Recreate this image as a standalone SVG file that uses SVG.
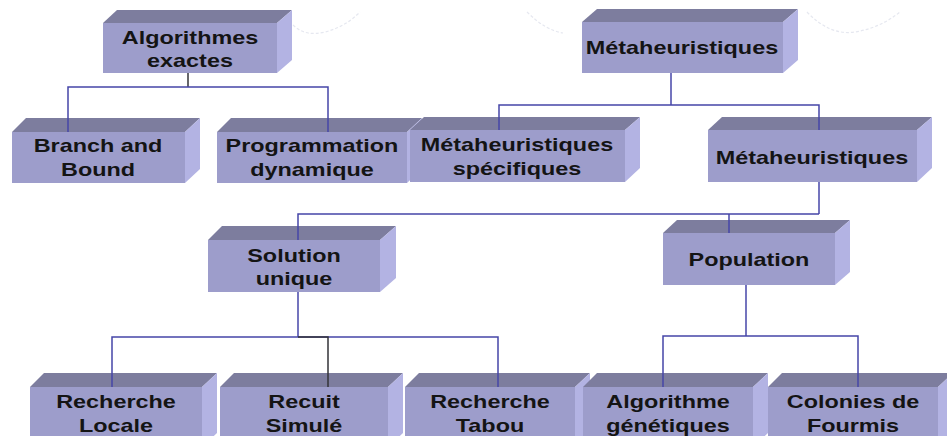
<svg xmlns="http://www.w3.org/2000/svg" width="947" height="436" viewBox="0 0 947 436">
<style>
.top{fill:#7d7d9e}
.front{fill:#9d9dcb}
.side{fill:#b3b3e3}
.lbl{font-family:"Liberation Sans",Arial,sans-serif;font-weight:bold;font-size:18px;fill:#141414;text-anchor:middle}
.c{fill:none;stroke:#4646a8;stroke-width:1.5}
.cd{fill:none;stroke:#333338;stroke-width:1.5}
.arc{fill:none;stroke:#e6e8f0;stroke-width:1.2;stroke-dasharray:3 2}
</style>
<rect width="947" height="436" fill="#ffffff"/>
<g id="decor">
<path class="arc" d="M293,25 Q305,37 325,32 T360,12"/>
<path class="arc" d="M527,12 Q545,30 563,33"/>
<path class="arc" d="M807,12 Q830,36 855,32 T900,12"/>
</g>
<g id="n1"><polygon class="top" points="103,23 277,23 292,10 117,10"/><rect class="front" x="103" y="23" width="174" height="50"/><polygon class="side" points="277,23 292,10 292,60 277,73"/>
<text class="lbl" transform="translate(190,0) scale(1.3,1)"><tspan x="0" y="44">Algorithmes</tspan><tspan x="0" y="67">exactes</tspan></text></g>
<g id="n2"><polygon class="top" points="582,22 783,22 798,9 597,9"/><rect class="front" x="582" y="22" width="201" height="51"/><polygon class="side" points="783,22 798,9 798,60 783,73"/>
<text class="lbl" transform="translate(682,0) scale(1.3,1)"><tspan x="0" y="54">Métaheuristiques</tspan></text></g>
<g id="n3"><polygon class="top" points="12,132 185,132 200,118 26,118"/><rect class="front" x="12" y="132" width="173" height="51"/><polygon class="side" points="185,132 200,118 200,169 185,183"/>
<text class="lbl" transform="translate(98,0) scale(1.3,1)"><tspan x="0" y="152">Branch and</tspan><tspan x="0" y="176">Bound</tspan></text></g>
<g id="n4"><polygon class="top" points="217,132 407,132 422,118 231,118"/><rect class="front" x="217" y="132" width="190" height="51"/><polygon class="side" points="407,132 422,118 422,169 407,183"/>
<text class="lbl" transform="translate(312,0) scale(1.3,1)"><tspan x="0" y="152">Programmation</tspan><tspan x="0" y="176">dynamique</tspan></text></g>
<g id="n5"><polygon class="top" points="410,130 625,130 640,117 424,117"/><rect class="front" x="410" y="130" width="215" height="52"/><polygon class="side" points="625,130 640,117 640,168 625,182"/>
<text class="lbl" transform="translate(517,0) scale(1.3,1)"><tspan x="0" y="151">Métaheuristiques</tspan><tspan x="0" y="175">spécifiques</tspan></text></g>
<g id="n6"><polygon class="top" points="708,130 917,130 932,117 722,117"/><rect class="front" x="708" y="130" width="209" height="52"/><polygon class="side" points="917,130 932,117 932,168 917,182"/>
<text class="lbl" transform="translate(812,0) scale(1.3,1)"><tspan x="0" y="164">Métaheuristiques</tspan></text></g>
<g id="n7"><polygon class="top" points="208,240 380,240 396,226 222,226"/><rect class="front" x="208" y="240" width="172" height="52"/><polygon class="side" points="380,240 396,226 396,278 380,292"/>
<text class="lbl" transform="translate(294,0) scale(1.3,1)"><tspan x="0" y="262">Solution</tspan><tspan x="0" y="285">unique</tspan></text></g>
<g id="n8"><polygon class="top" points="663,233 835,233 850,220 677,220"/><rect class="front" x="663" y="233" width="172" height="52"/><polygon class="side" points="835,233 850,220 850,272 835,285"/>
<text class="lbl" transform="translate(749,0) scale(1.3,1)"><tspan x="0" y="266">Population</tspan></text></g>
<g id="n9"><polygon class="top" points="30,387 202,387 217,373 44,373"/><rect class="front" x="30" y="387" width="172" height="60"/><polygon class="side" points="202,387 217,373 217,433 202,447"/>
<text class="lbl" transform="translate(116,0) scale(1.3,1)"><tspan x="0" y="408">Recherche</tspan><tspan x="0" y="432">Locale</tspan></text></g>
<g id="n10"><polygon class="top" points="220,387 388,387 403,373 234,373"/><rect class="front" x="220" y="387" width="168" height="60"/><polygon class="side" points="388,387 403,373 403,433 388,447"/>
<text class="lbl" transform="translate(304,0) scale(1.3,1)"><tspan x="0" y="408">Recuit</tspan><tspan x="0" y="432">Simulé</tspan></text></g>
<g id="n11"><polygon class="top" points="405,387 575,387 590,373 419,373"/><rect class="front" x="405" y="387" width="170" height="60"/><polygon class="side" points="575,387 590,373 590,433 575,447"/>
<text class="lbl" transform="translate(490,0) scale(1.3,1)"><tspan x="0" y="408">Recherche</tspan><tspan x="0" y="432">Tabou</tspan></text></g>
<g id="n12"><polygon class="top" points="583,387 753,387 768,373 597,373"/><rect class="front" x="583" y="387" width="170" height="60"/><polygon class="side" points="753,387 768,373 768,433 753,447"/>
<text class="lbl" transform="translate(668,0) scale(1.3,1)"><tspan x="0" y="408">Algorithme</tspan><tspan x="0" y="432">génétiques</tspan></text></g>
<g id="n13"><polygon class="top" points="768,387 938,387 953,373 782,373"/><rect class="front" x="768" y="387" width="170" height="60"/><polygon class="side" points="938,387 953,373 953,433 938,447"/>
<text class="lbl" transform="translate(853,0) scale(1.3,1)"><tspan x="0" y="408">Colonies de</tspan><tspan x="0" y="432">Fourmis</tspan></text></g>
<g id="connectors">
<path class="cd" d="M188,73 V87"/>
<path class="c" d="M68,132 V87 H328 V132"/>
<path class="c" d="M671,73 V105"/>
<path class="c" d="M499,130 V105 H819 V130"/>
<path class="c" d="M819,182 V214"/>
<path class="c" d="M298,240 V214 H819"/>
<path class="c" d="M729,214 V233"/>
<path class="c" d="M298,292 V337"/>
<path class="c" d="M112,387 V337 H498 V387"/>
<path class="cd" d="M298,337 H328 V387"/>
<path class="c" d="M746,285 V336"/>
<path class="c" d="M663,387 V336 H858 V387"/>
</g>
</svg>
